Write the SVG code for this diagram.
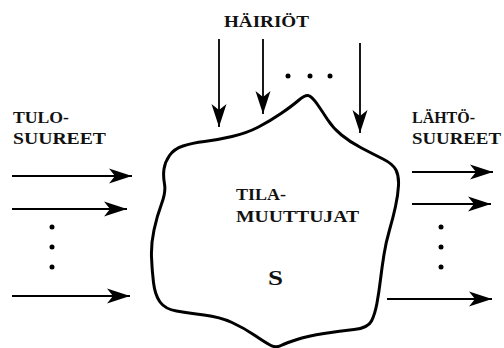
<svg xmlns="http://www.w3.org/2000/svg" width="504" height="348" viewBox="0 0 504 348">
  <style>
    .arrow { stroke: #000; stroke-width: 1.8; fill: none; marker-end: url(#head); }
    .dot { fill: #000; }
    .blob { fill: #fff; stroke: #000; stroke-width: 3; stroke-linejoin: round; }
  </style>
  <defs>
    <marker id="head" markerUnits="userSpaceOnUse" viewBox="-24 -9 25 18" markerWidth="25" markerHeight="18" refX="0" refY="0" orient="auto">
      <path d="M0,0 L-23,-7.5 L-17,0 L-23,7.5 Z" fill="#000"/>
    </marker>
  </defs>
  <rect width="504" height="348" fill="#fff"/>

  <g font-family="'Liberation Serif', 'Times New Roman', serif" font-weight="bold" font-size="17" fill="#111">
  <!-- system S: irregular boundary -->
  <g id="system">
    <path class="blob" d="M164,169 Q165,162 169.5,155.5 Q174,149 183,146 Q192,143 204.5,141.5 Q217,140 232,136.5 Q247,133 258.5,127 Q270,121 281,113.5 Q292,106 299,100 Q306,94 309.5,96 Q313,98 317.5,104.5 Q322,111 327.5,119.5 Q333,128 341.5,135 Q350,142 361.5,148 Q373,154 383,159 Q393,164 396,170 Q399,176 398.5,185.5 Q398,195 395.5,206.5 Q393,218 389.5,230 Q386,242 384,254.5 Q382,267 380.5,279.5 Q379,292 377,303 Q375,314 371.5,321 Q368,328 354,329.5 Q340,331 324,333.5 Q308,336 297,339.5 Q286,343 281,345.5 Q276,348 271,345.5 Q266,343 255,335.5 Q244,328 232,322.5 Q220,317 204,315 Q188,313 176.5,311 Q165,309 160,302 Q155,295 153.5,282.5 Q152,270 151.5,257 Q151,244 154,230 Q157,216 161.5,204 Q166,192 164.5,184 Q163,176 164,169 Z"/>
    <text x="236" y="200" textLength="50" lengthAdjust="spacingAndGlyphs">TILA-</text>
    <text x="236" y="222" textLength="123" lengthAdjust="spacingAndGlyphs">MUUTTUJAT</text>
    <text x="268" y="285" font-size="21" textLength="15" lengthAdjust="spacingAndGlyphs">S</text>
  </g>

  <g id="disturbances">
    <text x="224" y="27" textLength="85" lengthAdjust="spacingAndGlyphs">HÄIRIÖT</text>
    <circle class="dot" cx="288" cy="76" r="2.5"/>
    <circle class="dot" cx="310" cy="76" r="2.5"/>
    <circle class="dot" cx="330" cy="76" r="2.5"/>
  </g>

  <g id="inputs">
    <text x="13" y="123" textLength="56" lengthAdjust="spacingAndGlyphs">TULO-</text>
    <text x="13" y="144" textLength="93" lengthAdjust="spacingAndGlyphs">SUUREET</text>
    <circle class="dot" cx="52" cy="227" r="2.5"/>
    <circle class="dot" cx="52" cy="247" r="2.5"/>
    <circle class="dot" cx="52" cy="267" r="2.5"/>
  </g>

  <g id="outputs">
    <text x="412" y="123" textLength="63" lengthAdjust="spacingAndGlyphs">LÄHTÖ-</text>
    <text x="412" y="144" textLength="89" lengthAdjust="spacingAndGlyphs">SUUREET</text>
    <circle class="dot" cx="441" cy="227" r="2.5"/>
    <circle class="dot" cx="441" cy="247" r="2.5"/>
    <circle class="dot" cx="441" cy="267" r="2.5"/>
  </g>
  </g>

  <g id="connectors">
    <line class="arrow" x1="219" y1="39" x2="219" y2="127"/>
    <line class="arrow" x1="263" y1="39" x2="263" y2="114"/>
    <line class="arrow" x1="360" y1="43" x2="360" y2="133"/>
    <line class="arrow" x1="12" y1="176" x2="132" y2="176"/>
    <line class="arrow" x1="12" y1="209" x2="127" y2="209"/>
    <line class="arrow" x1="12" y1="296" x2="130" y2="296"/>
    <line class="arrow" x1="412" y1="172" x2="493" y2="172"/>
    <line class="arrow" x1="412" y1="204" x2="491" y2="204"/>
    <line class="arrow" x1="387" y1="299" x2="492" y2="299"/>
  </g>
</svg>
